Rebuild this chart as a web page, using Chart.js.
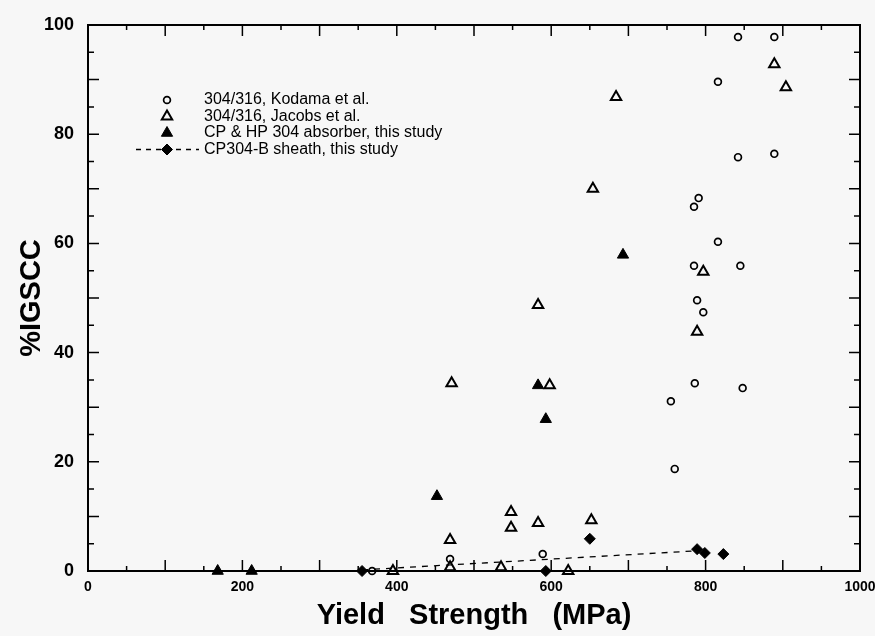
<!DOCTYPE html>
<html>
<head>
<meta charset="utf-8">
<script src="https://cdn.jsdelivr.net/npm/chart.js@4.4.0/dist/chart.umd.min.js"></script>
<style>
  html, body { margin: 0; padding: 0; background: #f7f7f7; }
</style>
</head>
<body>
<canvas id="myChart" width="875" height="636"></canvas>
<script>
// data (yield strength in MPa, %IGSCC)
var kodamaX = [368, 469, 589, 755, 760, 786, 848, 789, 797, 785, 845, 816, 785, 791, 842, 889, 816, 842, 889];
var kodamaY = [0, 2.2, 3.1, 31.1, 18.7, 34.4, 33.5, 49.6, 47.4, 55.9, 55.9, 60.3, 66.7, 68.3, 75.8, 76.4, 89.6, 97.8, 97.8];

var jacobsX = [395, 469, 469, 471, 535, 548, 548, 583, 622, 652, 598, 583, 654, 684, 789, 797, 889, 904];
var jacobsY = [0, 0.7, 5.7, 34.4, 0.7, 10.8, 7.9, 8.8, 0, 9.3, 34, 48.7, 70, 86.8, 43.8, 54.8, 92.8, 88.6];

var absorberX = [168, 212, 452, 583, 593, 693];
var absorberY = [0, 0, 13.7, 34, 27.8, 57.9];

var sheathX = [355, 593, 650, 789, 799, 823];
var sheathY = [0, 0, 5.9, 4.0, 3.3, 3.1];

// dashed trend line for the sheath data
var trendX = [355, 789];
var trendY = [0.2, 3.7];

var xTicks = [0, 200, 400, 600, 800, 1000];
var yTicks = [0, 20, 40, 60, 80, 100];

var labels = ['304/316, Kodama et al.', '304/316, Jacobs et al.', 'CP & HP 304 absorber, this study', 'CP304-B sheath, this study'];

function pts(xs, ys) {
    return xs.map(function (v, i) { return { x: v, y: ys[i] }; });
}

var fontFamily = '"Liberation Sans", Arial, Helvetica, sans-serif';

// frame + inward ticks on all four sides
var frameTicks = {
    id: 'frameTicks',
    beforeDatasetsDraw: function (chart) {
        var c = chart.ctx, a = chart.chartArea, sx = chart.scales.x, sy = chart.scales.y;
        c.save();
        c.strokeStyle = '#000';
        c.lineWidth = 2;
        c.strokeRect(a.left, a.top, a.right - a.left, a.bottom - a.top);
        c.lineWidth = 1.5;
        c.beginPath();
        for (var v = 50; v < 1000; v += 50) {
            var px = sx.getPixelForValue(v);
            var len = v % 100 === 0 ? 11 : 5;
            c.moveTo(px, a.bottom); c.lineTo(px, a.bottom - len);
            c.moveTo(px, a.top); c.lineTo(px, a.top + len);
        }
        for (var w = 5; w < 100; w += 5) {
            var py = sy.getPixelForValue(w);
            var l2 = w % 10 === 0 ? 11 : 6;
            c.moveTo(a.left, py); c.lineTo(a.left + l2, py);
            c.moveTo(a.right, py); c.lineTo(a.right - l2, py);
        }
        c.stroke();
        c.restore();
    }
};

// legend drawn inside the plot, upper left
var insideLegend = {
    id: 'insideLegend',
    afterDraw: function (chart) {
        var c = chart.ctx;
        c.save();
        c.font = '16px ' + fontFamily;
        c.textBaseline = 'middle';
        c.fillStyle = '#000';
        for (var i = 0; i < 4; i++) {
            var ds = chart.data.datasets[i];
            var y = 100 + i * 16.5;
            if (i === 3) {
                c.save();
                c.strokeStyle = '#000';
                c.lineWidth = 1.3;
                c.setLineDash([5, 5]);
                c.beginPath();
                c.moveTo(136, y); c.lineTo(199, y);
                c.stroke();
                c.restore();
            }
            c.save();
            c.fillStyle = ds.backgroundColor;
            c.strokeStyle = ds.borderColor;
            c.lineWidth = ds.borderWidth;
            Chart.helpers.drawPoint(c, {
                pointStyle: ds.pointStyle,
                radius: ds.pointRadius,
                rotation: 0,
                borderWidth: ds.borderWidth
            }, 167, y);
            c.restore();
            c.fillText(labels[i], 204, y);
        }
        c.restore();
    }
};

var ctx = document.getElementById('myChart');
var myChart = new Chart(ctx, {
    type: 'scatter',
    data: {
        datasets: [{
            label: labels[0],
            data: pts(kodamaX, kodamaY),
            pointStyle: 'circle',
            pointRadius: 3.4,
            borderWidth: 1.7,
            borderColor: '#000',
            backgroundColor: 'rgba(0,0,0,0)',
            clip: false
        }, {
            label: labels[1],
            data: pts(jacobsX, jacobsY),
            pointStyle: 'triangle',
            pointRadius: 6,
            borderWidth: 2,
            borderColor: '#000',
            backgroundColor: 'rgba(0,0,0,0)',
            clip: false
        }, {
            label: labels[2],
            data: pts(absorberX, absorberY),
            pointStyle: 'triangle',
            pointRadius: 6.5,
            borderWidth: 1,
            borderColor: '#000',
            backgroundColor: '#000',
            clip: false
        }, {
            label: labels[3],
            data: pts(sheathX, sheathY),
            pointStyle: 'rectRot',
            pointRadius: 5.5,
            borderWidth: 1,
            borderColor: '#000',
            backgroundColor: '#000',
            clip: false
        }, {
            label: 'trend',
            data: pts(trendX, trendY),
            showLine: true,
            borderDash: [6, 6],
            borderWidth: 1.3,
            borderColor: '#000',
            pointRadius: 0,
            clip: false
        }]
    },
    options: {
        responsive: false,
        animation: false,
        layout: { padding: { top: 25, right: 15, left: 0, bottom: 0 } },
        plugins: {
            legend: { display: false },
            tooltip: { enabled: false }
        },
        scales: {
            x: {
                type: 'linear',
                min: 0,
                max: 1000,
                afterFit: function (s) { s.height = 65; s.paddingLeft = 0; s.paddingRight = 0; },
                afterBuildTicks: function (s) { s.ticks = xTicks.map(function (v) { return { value: v }; }); },
                grid: { display: false, drawTicks: false },
                border: { display: false },
                ticks: {
                    color: '#000',
                    padding: 8,
                    maxRotation: 0,
                    callback: function (v) { return String(v); },
                    font: { family: fontFamily, size: 14, weight: 'bold' }
                },
                title: {
                    display: true,
                    text: 'Yield   Strength   (MPa)',
                    color: '#000',
                    padding: { top: 0, bottom: 3 },
                    font: { family: fontFamily, size: 29, weight: 'bold' }
                }
            },
            y: {
                type: 'linear',
                min: 0,
                max: 100,
                afterFit: function (s) { s.width = 88; s.paddingTop = 0; s.paddingBottom = 0; },
                afterBuildTicks: function (s) { s.ticks = yTicks.map(function (v) { return { value: v }; }); },
                grid: { display: false, drawTicks: false },
                border: { display: false },
                ticks: {
                    color: '#000',
                    padding: 14,
                    font: { family: fontFamily, size: 18, weight: 'bold' }
                },
                title: {
                    display: true,
                    text: '%IGSCC',
                    color: '#000',
                    padding: { top: 15, bottom: 0 },
                    font: { family: fontFamily, size: 29, weight: 'bold' }
                }
            }
        }
    },
    plugins: [frameTicks, insideLegend]
});
</script>
</body>
</html>
